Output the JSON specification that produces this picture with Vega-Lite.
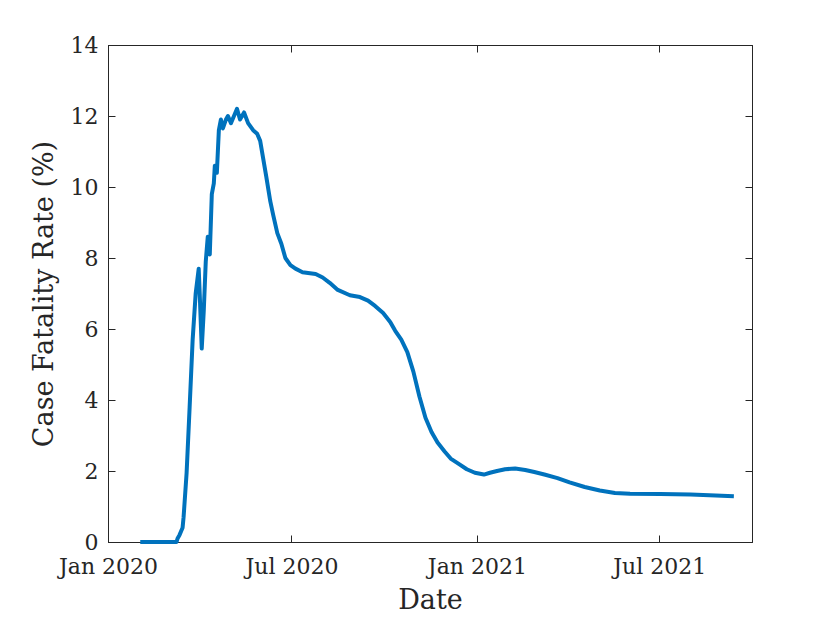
{
  "$schema": "https://vega.github.io/schema/vega-lite/v6.json",
  "width": 644,
  "height": 497,
  "autosize": {"type": "none"},
  "padding": {"left": 108, "top": 45, "right": 78, "bottom": 81},
  "background": "white",
  "view": {"stroke": "#262626", "strokeWidth": 1},
  "config": {
    "font": "DejaVu Serif",
    "axis": {
      "grid": false,
      "domainColor": "#262626",
      "tickColor": "#262626",
      "labelColor": "#262626",
      "titleColor": "#262626",
      "labelFont": "DejaVu Serif",
      "titleFont": "DejaVu Serif",
      "labelFontSize": 22,
      "titleFontSize": 27,
      "titleFontWeight": "normal",
      "tickSize": -7,
      "domainWidth": 1,
      "tickWidth": 1,
      "labelFlush": false
    }
  },
  "data": {
    "values": [
      {"date": "2020-02-02", "cfr": 0},
      {"date": "2020-03-09", "cfr": 0},
      {"date": "2020-03-10", "cfr": 0.1},
      {"date": "2020-03-12", "cfr": 0.2},
      {"date": "2020-03-15", "cfr": 0.4},
      {"date": "2020-03-16", "cfr": 0.7},
      {"date": "2020-03-19", "cfr": 1.95},
      {"date": "2020-03-22", "cfr": 3.8},
      {"date": "2020-03-25", "cfr": 5.7},
      {"date": "2020-03-28", "cfr": 7.0},
      {"date": "2020-03-31", "cfr": 7.7},
      {"date": "2020-04-01", "cfr": 7.0},
      {"date": "2020-04-03", "cfr": 5.45},
      {"date": "2020-04-05", "cfr": 6.5},
      {"date": "2020-04-07", "cfr": 7.9},
      {"date": "2020-04-09", "cfr": 8.6},
      {"date": "2020-04-11", "cfr": 8.1},
      {"date": "2020-04-13", "cfr": 9.8},
      {"date": "2020-04-15", "cfr": 10.1},
      {"date": "2020-04-16", "cfr": 10.6},
      {"date": "2020-04-18", "cfr": 10.4},
      {"date": "2020-04-20", "cfr": 11.6},
      {"date": "2020-04-22", "cfr": 11.9},
      {"date": "2020-04-24", "cfr": 11.65},
      {"date": "2020-04-27", "cfr": 11.9},
      {"date": "2020-04-29", "cfr": 12.0},
      {"date": "2020-05-02", "cfr": 11.8},
      {"date": "2020-05-05", "cfr": 12.0},
      {"date": "2020-05-08", "cfr": 12.2},
      {"date": "2020-05-11", "cfr": 11.9},
      {"date": "2020-05-15", "cfr": 12.1},
      {"date": "2020-05-19", "cfr": 11.8},
      {"date": "2020-05-24", "cfr": 11.6},
      {"date": "2020-05-28", "cfr": 11.5},
      {"date": "2020-05-31", "cfr": 11.3},
      {"date": "2020-06-03", "cfr": 10.8},
      {"date": "2020-06-06", "cfr": 10.3},
      {"date": "2020-06-10", "cfr": 9.6},
      {"date": "2020-06-13", "cfr": 9.2},
      {"date": "2020-06-17", "cfr": 8.7},
      {"date": "2020-06-21", "cfr": 8.4},
      {"date": "2020-06-25", "cfr": 8.0},
      {"date": "2020-06-30", "cfr": 7.8},
      {"date": "2020-07-05", "cfr": 7.7},
      {"date": "2020-07-12", "cfr": 7.6},
      {"date": "2020-07-25", "cfr": 7.55},
      {"date": "2020-08-01", "cfr": 7.45},
      {"date": "2020-08-08", "cfr": 7.3},
      {"date": "2020-08-16", "cfr": 7.1},
      {"date": "2020-08-28", "cfr": 6.95},
      {"date": "2020-09-07", "cfr": 6.9},
      {"date": "2020-09-15", "cfr": 6.8},
      {"date": "2020-09-22", "cfr": 6.65},
      {"date": "2020-09-30", "cfr": 6.45},
      {"date": "2020-10-07", "cfr": 6.2},
      {"date": "2020-10-12", "cfr": 5.95},
      {"date": "2020-10-18", "cfr": 5.7},
      {"date": "2020-10-24", "cfr": 5.35},
      {"date": "2020-10-30", "cfr": 4.8},
      {"date": "2020-11-05", "cfr": 4.1},
      {"date": "2020-11-11", "cfr": 3.5},
      {"date": "2020-11-17", "cfr": 3.1},
      {"date": "2020-11-23", "cfr": 2.8},
      {"date": "2020-11-30", "cfr": 2.55},
      {"date": "2020-12-06", "cfr": 2.35},
      {"date": "2020-12-14", "cfr": 2.2},
      {"date": "2020-12-22", "cfr": 2.05},
      {"date": "2020-12-30", "cfr": 1.95},
      {"date": "2021-01-08", "cfr": 1.9},
      {"date": "2021-01-14", "cfr": 1.95},
      {"date": "2021-01-21", "cfr": 2.0},
      {"date": "2021-01-29", "cfr": 2.05},
      {"date": "2021-02-08", "cfr": 2.07},
      {"date": "2021-02-18", "cfr": 2.03},
      {"date": "2021-02-27", "cfr": 1.97},
      {"date": "2021-03-09", "cfr": 1.9},
      {"date": "2021-03-22", "cfr": 1.8},
      {"date": "2021-04-03", "cfr": 1.68},
      {"date": "2021-04-18", "cfr": 1.55},
      {"date": "2021-05-03", "cfr": 1.45},
      {"date": "2021-05-18", "cfr": 1.38},
      {"date": "2021-06-02", "cfr": 1.36},
      {"date": "2021-07-02", "cfr": 1.35},
      {"date": "2021-08-01", "cfr": 1.34},
      {"date": "2021-08-26", "cfr": 1.31},
      {"date": "2021-09-13", "cfr": 1.29}
    ]
  },
  "layer": [
    {
      "mark": {"type": "line", "strokeOpacity": 0},
      "encoding": {
        "x": {
          "field": "date", "type": "temporal",
          "scale": {"type": "utc", "domain": [{"year": 2020, "month": 1, "date": 1, "utc": true}, {"year": 2021, "month": 10, "date": 1, "utc": true}]},
          "axis": {
            "title": "Date",
            "values": [{"year": 2020, "month": 1, "date": 1, "utc": true}, {"year": 2020, "month": 7, "date": 1, "utc": true}, {"year": 2021, "month": 1, "date": 1, "utc": true}, {"year": 2021, "month": 7, "date": 1, "utc": true}],
            "format": "%b %Y",
            "labelPadding": 21,
            "titlePadding": 10
          }
        },
        "y": {
          "field": "cfr", "type": "quantitative",
          "scale": {"domain": [0, 14], "nice": false, "zero": true},
          "axis": {
            "title": "Case Fatality Rate (%)",
            "values": [0, 2, 4, 6, 8, 10, 12, 14],
            "labelPadding": 17,
            "titlePadding": 12
          }
        }
      }
    },
    {
      "mark": {"type": "line", "color": "#0072BD", "strokeWidth": 4, "strokeJoin": "round"},
      "encoding": {
        "x": {
          "field": "date", "type": "temporal",
          "scale": {"type": "utc", "domain": [{"year": 2020, "month": 1, "date": 1, "utc": true}, {"year": 2021, "month": 10, "date": 1, "utc": true}]},
          "axis": {
            "title": null, "labels": false, "orient": "top",
            "values": [{"year": 2020, "month": 1, "date": 1, "utc": true}, {"year": 2020, "month": 7, "date": 1, "utc": true}, {"year": 2021, "month": 1, "date": 1, "utc": true}, {"year": 2021, "month": 7, "date": 1, "utc": true}]
          }
        },
        "y": {
          "field": "cfr", "type": "quantitative",
          "scale": {"domain": [0, 14], "nice": false, "zero": true},
          "axis": {"title": null, "labels": false, "orient": "right", "values": [0, 2, 4, 6, 8, 10, 12, 14]}
        }
      }
    }
  ],
  "resolve": {"axis": {"x": "independent", "y": "independent"}}
}
